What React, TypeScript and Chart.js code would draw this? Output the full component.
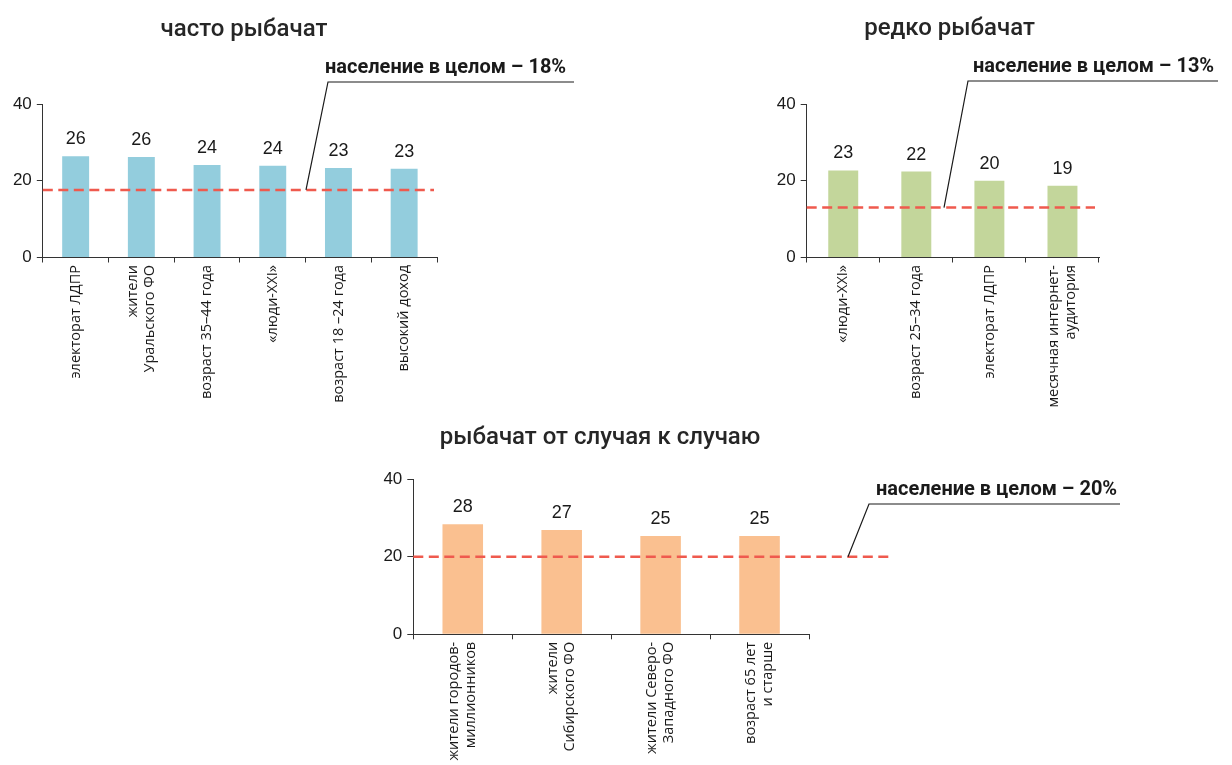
import React, { useEffect, useRef } from "react";
import { Chart, registerables } from "chart.js";

Chart.register(...registerables);

// ---------- data ----------
const oftenTitle = "часто рыбачат";
const oftenCategories: string[][] = [
  ["электорат ЛДПР"],
  ["жители", "Уральского ФО"],
  ["возраст 35–44 года"],
  ["«люди-XXI»"],
  ["возраст 18 –24 года"],
  ["высокий доход"],
];
const oftenValues = [26.4, 26.2, 24.1, 23.9, 23.3, 23.1];
const oftenValueLabels = ["26", "26", "24", "24", "23", "23"];
const oftenPopulation = 17.6;
const oftenPopulationLabel = "население в целом – 18%";

const rarelyTitle = "редко рыбачат";
const rarelyCategories: string[][] = [
  ["«люди-XXI»"],
  ["возраст 25–34 года"],
  ["электорат ЛДПР"],
  ["месячная интернет-", "аудитория"],
];
const rarelyValues = [22.7, 22.4, 20.0, 18.7];
const rarelyValueLabels = ["23", "22", "20", "19"];
const rarelyPopulation = 13.0;
const rarelyPopulationLabel = "население в целом – 13%";

const occasionalTitle = "рыбачат от случая к случаю";
const occasionalCategories: string[][] = [
  ["жители городов-", "миллионников"],
  ["жители", "Сибирского ФО"],
  ["жители Северо-", "Западного ФО"],
  ["возраст 65 лет", "и старше"],
];
const occasionalValues = [28.4, 26.9, 25.4, 25.4];
const occasionalValueLabels = ["28", "27", "25", "25"];
const occasionalPopulation = 20.0;
const occasionalPopulationLabel = "население в целом – 20%";

const yMin = 0;
const yMax = 40;
const yStep = 20;

// ---------- styles ----------
const TEXT = "#1a1a1a";
const TITLE = "#262626";
const AXIS = "#333333";
const RED = "#ef5a4e";
const BLUE = "#93cddd";
const GREEN = "#c3d69b";
const ORANGE = "#fac090";
const LABEL_FONT = "'Open Sans', 'Noto Sans', sans-serif";
const NUM_FONT = "'Liberation Sans', Arial, sans-serif";
const TITLE_FONT = "Roboto, 'Noto Sans', sans-serif";

type Panel = {
  left: number; top: number; w: number; h: number;
  area: { left: number; right: number; top: number; bottom: number };
  title: string; titleX: number; titleY: number;
  categories: string[][]; values: number[]; valueLabels: string[];
  color: string;
  ref: number; refLabel: string; refEnd: number;
  leaderX: number; ulY: number; ulX1: number; ulX2: number; textX: number;
};

const panels: Panel[] = [
  {
    left: 0, top: 0, w: 620, h: 420,
    area: { left: 42.8, right: 437, top: 104, bottom: 257.5 },
    title: oftenTitle, titleX: 244, titleY: 36,
    categories: oftenCategories, values: oftenValues, valueLabels: oftenValueLabels,
    color: BLUE,
    ref: oftenPopulation, refLabel: oftenPopulationLabel, refEnd: 434,
    leaderX: 306, ulY: 82, ulX1: 328, ulX2: 574, textX: 325,
  },
  {
    left: 740, top: 0, w: 492, h: 420,
    area: { left: 806.7, right: 1099, top: 104, bottom: 257.5 },
    title: rarelyTitle, titleX: 949.5, titleY: 35,
    categories: rarelyCategories, values: rarelyValues, valueLabels: rarelyValueLabels,
    color: GREEN,
    ref: rarelyPopulation, refLabel: rarelyPopulationLabel, refEnd: 1095,
    leaderX: 944, ulY: 81, ulX1: 968, ulX2: 1218, textX: 973,
  },
  {
    left: 370, top: 420, w: 862, h: 345,
    area: { left: 413.3, right: 809, top: 479.3, bottom: 634.3 },
    title: occasionalTitle, titleX: 600, titleY: 444,
    categories: occasionalCategories, values: occasionalValues, valueLabels: occasionalValueLabels,
    color: ORANGE,
    ref: occasionalPopulation, refLabel: occasionalPopulationLabel, refEnd: 890,
    leaderX: 848, ulY: 504, ulX1: 869, ulX2: 1120, textX: 876,
  },
];

function makeOverlay(p: Panel) {
  return {
    id: "overlay",
    afterDatasetsDraw(chart: any) {
      const { ctx, chartArea, scales } = chart;
      const xs = scales.x;
      const ys = scales.y;
      const ox = p.left;
      const oy = p.top;
      ctx.save();

      // value labels
      const meta = chart.getDatasetMeta(0);
      ctx.fillStyle = TEXT;
      ctx.font = `18px ${NUM_FONT}`;
      ctx.textAlign = "center";
      ctx.textBaseline = "alphabetic";
      meta.data.forEach((bar: any, i: number) => {
        ctx.fillText(p.valueLabels[i], bar.x, bar.y - 12);
      });

      // category labels (rotated)
      ctx.font = `14.5px ${LABEL_FONT}`;
      ctx.textAlign = "right";
      ctx.textBaseline = "middle";
      const lh = 17;
      p.categories.forEach((lines, i) => {
        const cx = xs.getPixelForValue(i);
        ctx.save();
        ctx.translate(cx, chartArea.bottom + 7.5);
        ctx.rotate(-Math.PI / 2);
        lines.forEach((ln, j) => {
          const off = (j - (lines.length - 1) / 2) * lh;
          ctx.fillText(ln, 0, off);
        });
        ctx.restore();
      });

      // reference line
      const ry = ys.getPixelForValue(p.ref);
      ctx.strokeStyle = RED;
      ctx.lineWidth = 2.5;
      ctx.setLineDash([10, 5.5]);
      ctx.beginPath();
      ctx.moveTo(chartArea.left, ry);
      ctx.lineTo(p.refEnd - ox, ry);
      ctx.stroke();

      // leader + underline
      ctx.setLineDash([]);
      ctx.strokeStyle = TEXT;
      ctx.lineWidth = 1.2;
      ctx.beginPath();
      ctx.moveTo(p.leaderX - ox, ry);
      ctx.lineTo(p.ulX1 - ox, p.ulY - oy);
      ctx.lineTo(p.ulX2 - ox, p.ulY - oy);
      ctx.stroke();

      // annotation text
      ctx.fillStyle = TEXT;
      ctx.font = `bold 20px ${TITLE_FONT}`;
      ctx.textAlign = "left";
      ctx.textBaseline = "alphabetic";
      ctx.fillText(p.refLabel, p.textX - ox, p.ulY - oy - 9);

      // title
      ctx.fillStyle = TITLE;
      ctx.font = `500 24px ${TITLE_FONT}`;
      ctx.textAlign = "center";
      ctx.fillText(p.title, p.titleX - ox, p.titleY - oy);

      ctx.restore();
    },
  };
}

function BarPanel({ p }: { p: Panel }) {
  const ref = useRef<HTMLCanvasElement>(null);
  useEffect(() => {
    const a = {
      left: p.area.left - p.left,
      right: p.area.right - p.left,
      top: p.area.top - p.top,
      bottom: p.area.bottom - p.top,
    };
    const chart = new Chart(ref.current as HTMLCanvasElement, {
      type: "bar",
      data: {
        labels: p.categories.map((c) => c.join(" ")),
        datasets: [
          {
            data: p.values,
            backgroundColor: p.color,
            borderWidth: 0,
            barPercentage: 0.41,
            categoryPercentage: 1,
          },
        ],
      },
      options: {
        animation: false,
        responsive: false,
        devicePixelRatio: 1,
        events: [],
        layout: { padding: { left: 0, top: a.top, right: p.w - a.right, bottom: 0 } },
        plugins: {
          legend: { display: false },
          tooltip: { enabled: false },
          title: { display: false },
        },
        scales: {
          x: {
            grid: { offset: true, drawOnChartArea: false, drawTicks: true, tickLength: 5, color: AXIS, lineWidth: 1 },
            border: { color: AXIS, width: 1 },
            ticks: { display: false },
            afterFit: (s: any) => { s.height = p.h - a.bottom; },
          },
          y: {
            min: yMin,
            max: yMax,
            ticks: { stepSize: yStep, padding: 5, color: TEXT, font: { family: NUM_FONT, size: 17 } },
            grid: { drawOnChartArea: false, drawTicks: true, tickLength: 6, color: AXIS, lineWidth: 1 },
            border: { color: AXIS, width: 1 },
            afterFit: (s: any) => { s.width = a.left; },
          },
        },
      },
      plugins: [makeOverlay(p)],
    } as any);
    return () => chart.destroy();
  }, []);
  return (
    <canvas
      ref={ref}
      width={p.w}
      height={p.h}
      style={{ position: "absolute", left: p.left, top: p.top, width: p.w, height: p.h }}
    />
  );
}

export default function App() {
  return (
    <div style={{ position: "absolute", left: 0, top: 0, width: 1232, height: 765, background: "#ffffff", overflow: "hidden" }}>
      {panels.map((p, i) => (
        <BarPanel key={i} p={p} />
      ))}
    </div>
  );
}
